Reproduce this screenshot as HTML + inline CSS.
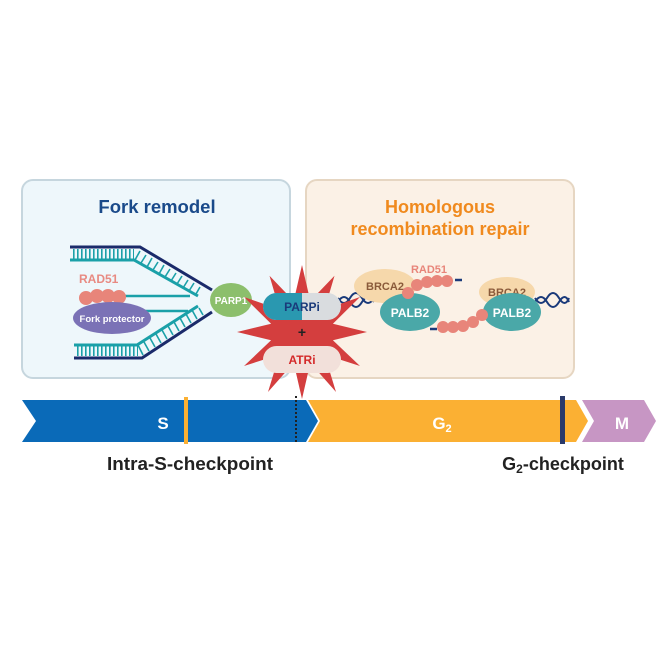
<!DOCTYPE html>
<html><head><meta charset="utf-8"><style>
html,body{margin:0;padding:0;background:#fff}
svg{display:block}
text{font-family:"Liberation Sans",sans-serif;font-weight:bold}
</style></head><body>
<svg width="664" height="664" viewBox="0 0 664 664" xmlns="http://www.w3.org/2000/svg">
<defs>
<pattern id="rungs" width="4" height="10" patternUnits="userSpaceOnUse"><rect x="1" width="1.6" height="10" fill="#1aa0a8"/></pattern>
</defs>
<rect x="22" y="180" width="268" height="198" rx="11" fill="#eef7fb" stroke="#c6d6de" stroke-width="2"/>
<rect x="306" y="180" width="268" height="198" rx="11" fill="#fbf1e6" stroke="#e6d6c2" stroke-width="2"/>
<text x="157" y="213" text-anchor="middle" font-size="18.5" fill="#1a4a8a">Fork remodel</text>
<text x="440" y="213" text-anchor="middle" font-size="18" fill="#f08a1e">Homologous</text>
<text x="440" y="235" text-anchor="middle" font-size="18" fill="#f08a1e">recombination repair</text>

<g>
<rect x="72" y="249" width="62" height="10" fill="url(#rungs)"/>
<path d="M70 247 H140 L212 290" stroke="#1a2a6a" stroke-width="3" fill="none"/>
<path d="M70 260 H134 L198 296" stroke="#1aa0a8" stroke-width="3" fill="none"/>
<g stroke="#1aa0a8" stroke-width="1.6">
<line x1="140" y1="251" x2="135" y2="260"/><line x1="146" y1="255" x2="141" y2="263"/><line x1="152" y1="258" x2="147" y2="267"/><line x1="158" y1="262" x2="153" y2="270"/><line x1="164" y1="265" x2="159" y2="274"/><line x1="170" y1="269" x2="165" y2="277"/><line x1="176" y1="273" x2="171" y2="281"/><line x1="182" y1="276" x2="177" y2="284"/><line x1="188" y1="280" x2="183" y2="288"/><line x1="194" y1="283" x2="189" y2="291"/><line x1="200" y1="287" x2="196" y2="294"/>
</g>
</g>
<g>
<rect x="76" y="346" width="62" height="10" fill="url(#rungs)"/>
<path d="M74 358 H142 L212 312" stroke="#1a2a6a" stroke-width="3" fill="none"/>
<path d="M74 345 H137 L198 306" stroke="#1aa0a8" stroke-width="3" fill="none"/>
<g stroke="#1aa0a8" stroke-width="1.6">
<line x1="143" y1="355" x2="138" y2="345"/><line x1="149" y1="351" x2="144" y2="342"/><line x1="155" y1="347" x2="150" y2="338"/><line x1="161" y1="343" x2="156" y2="334"/><line x1="167" y1="339" x2="162" y2="330"/><line x1="173" y1="335" x2="168" y2="326"/><line x1="179" y1="331" x2="174" y2="322"/><line x1="185" y1="327" x2="180" y2="318"/><line x1="191" y1="323" x2="186" y2="314"/><line x1="197" y1="319" x2="192" y2="310"/><line x1="203" y1="315" x2="199" y2="308"/>
</g>
</g>
<line x1="125" y1="296" x2="190" y2="296" stroke="#1aa0a8" stroke-width="2.5"/>
<line x1="125" y1="311" x2="188" y2="311" stroke="#1aa0a8" stroke-width="2.5"/>
<text x="79" y="283" font-size="12" fill="#e88a82">RAD51</text>
<g fill="#e8857a"><circle cx="86" cy="298" r="7"/><circle cx="97" cy="296" r="7"/><circle cx="108" cy="296" r="7"/><circle cx="119" cy="297" r="7"/></g>
<ellipse cx="112" cy="318" rx="39" ry="16" fill="#7b72b6"/>
<text x="112" y="322" text-anchor="middle" font-size="9.5" fill="#fff">Fork protector</text>
<ellipse cx="231" cy="300" rx="21" ry="17" fill="#8cbf6c"/>
<text x="231" y="304" text-anchor="middle" font-size="10" fill="#fff">PARP1</text>

<path d="M338 302 q6 -10 12 0 t12 0 t12 0" stroke="#1a3a7a" stroke-width="2" fill="none"/>
<path d="M338 298 q6 10 12 0 t12 0 t12 0" stroke="#1a3a7a" stroke-width="2" fill="none"/>
<path d="M535 302 q6 -10 12 0 t12 0 t10 0" stroke="#1a3a7a" stroke-width="2" fill="none"/>
<path d="M535 298 q6 10 12 0 t12 0 t10 0" stroke="#1a3a7a" stroke-width="2" fill="none"/>
<ellipse cx="385" cy="286" rx="31" ry="17" fill="#f6d8ab"/>
<text x="385" y="290" text-anchor="middle" font-size="11" fill="#8a5a3a">BRCA2</text>
<ellipse cx="507" cy="292" rx="28" ry="15" fill="#f6d8ab"/>
<text x="507" y="296" text-anchor="middle" font-size="11" fill="#8a5a3a">BRCA2</text>
<ellipse cx="410" cy="312" rx="30" ry="19" fill="#4aa8a8"/>
<text x="410" y="317" text-anchor="middle" font-size="12" fill="#fff">PALB2</text>
<ellipse cx="512" cy="312" rx="29" ry="19" fill="#4aa8a8"/>
<text x="512" y="317" text-anchor="middle" font-size="12" fill="#fff">PALB2</text>
<text x="429" y="273" text-anchor="middle" font-size="11" fill="#e8857a">RAD51</text>
<g fill="#e8857a">
<circle cx="408" cy="293" r="6"/><circle cx="417" cy="285" r="6"/><circle cx="427" cy="282" r="6"/><circle cx="437" cy="281" r="6"/><circle cx="447" cy="281" r="6"/>
<circle cx="443" cy="327" r="6"/><circle cx="453" cy="327" r="6"/><circle cx="463" cy="326" r="6"/><circle cx="473" cy="322" r="6"/><circle cx="482" cy="315" r="6"/>
</g>
<line x1="455" y1="280" x2="462" y2="280" stroke="#1a3a7a" stroke-width="2.5"/>
<line x1="430" y1="329" x2="437" y2="329" stroke="#1a3a7a" stroke-width="2.5"/>

<polygon fill="#d43e3e" points="302,265 310.3,301 334.5,275.7 324.6,309.4 360,297 332.9,323.7 367,332 332.9,340.3 360,366 324.6,354.6 336,392 310.3,362.9 302,399 293.7,362.9 268,392 279.4,354.6 244,366 271.1,340.3 237,332 271.1,323.7 244,297 279.4,309.4 269.5,275.7 293.7,301"/>
<rect x="263" y="293" width="78" height="27" rx="13.5" fill="#d9dcdf"/>
<path d="M276.5 293 H302 V320 H276.5 A13.5 13.5 0 0 1 276.5 293 Z" fill="#2a98b0"/>
<text x="302" y="311" text-anchor="middle" font-size="12" fill="#1a3a7a">PARPi</text>
<text x="302" y="337" text-anchor="middle" font-size="14" fill="#222">+</text>
<rect x="263" y="346" width="78" height="27" rx="13.5" fill="#f2e0da"/>
<text x="302" y="364" text-anchor="middle" font-size="12" fill="#d42a2a">ATRi</text>

<polygon points="22,400 306,400 318,421 306,442 22,442 36,421" fill="#0a6ab8"/>
<polygon points="308,400 576,400 588,421 576,442 308,442 320,421" fill="#fbb033"/>
<polygon points="582,400 644,400 656,421 644,442 582,442 594,421" fill="#c796c4"/>
<rect x="184" y="397" width="4" height="47" fill="#fbb033"/>
<line x1="296" y1="396" x2="296" y2="443" stroke="#222" stroke-width="2" stroke-dasharray="2,2"/>
<rect x="560" y="396" width="5" height="48" fill="#2a3a6a"/>
<text x="163" y="429" text-anchor="middle" font-size="17" fill="#fff">S</text>
<text x="442" y="429" text-anchor="middle" font-size="17" fill="#fff">G<tspan font-size="11" dy="3">2</tspan></text>
<text x="622" y="429" text-anchor="middle" font-size="17" fill="#fff">M</text>
<text x="190" y="470" text-anchor="middle" font-size="18" fill="#222" textLength="166" lengthAdjust="spacingAndGlyphs">Intra-S-checkpoint</text>
<text x="563" y="470" text-anchor="middle" font-size="18" fill="#222">G<tspan font-size="12" dy="3">2</tspan><tspan dy="-3">-checkpoint</tspan></text>
</svg>
</body></html>
